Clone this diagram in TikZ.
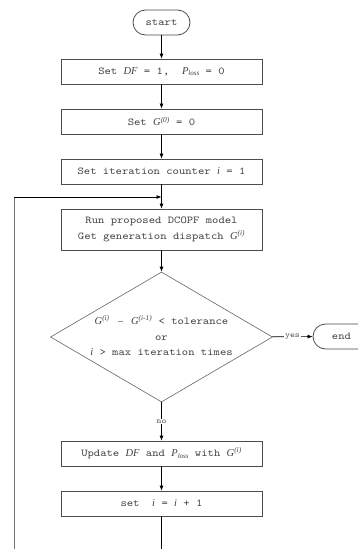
\documentclass[tikz,border=0pt]{standalone}
\usepackage{fontspec}
\setmonofont{Latin Modern Mono}[FakeStretch=1.15]
\newfontfamily\serifit{Liberation Serif}
\usetikzlibrary{shapes.geometric,arrows.meta}
\newcommand\mi[1]{{\serifit\itshape #1}}
\newcommand\su[1]{\textsuperscript{\serifit\itshape #1}}
\newcommand\lo[1]{\raisebox{-0.35ex}{\fontsize{7}{8}\selectfont\serifit\itshape #1}}
\begin{document}
\begin{tikzpicture}[x=1pt,y=-1pt,
  txt/.style={font=\ttfamily\fontsize{10.5}{16.5}\selectfont, text=black!75, align=center, inner sep=0pt},
  box/.style={txt, draw=black!70, line width=0.8pt, minimum width=201pt, minimum height=25pt},
  term/.style={txt, draw=black!70, line width=0.8pt, minimum width=57pt, minimum height=25pt, rounded corners=12.5pt},
  decision/.style={draw=black!60, line width=0.6pt, shape=diamond, inner sep=0pt, minimum width=222pt, minimum height=130pt},
  arr/.style={draw=black, line width=0.7pt, -{Latex[length=5pt,width=4pt]}},
  line/.style={draw=black, line width=0.7pt},
  lbl/.style={font=\ttfamily\fontsize{8}{9}\selectfont, text=black!65, fill=white, inner sep=1pt}]
\useasboundingbox (0,0) rectangle (358,549);
\clip (0,0) rectangle (358,549);
\fill[white] (0,0) rectangle (358,549);
\node[term] (start) at (161.5,22.5) {start};
\node[box] (b1) at (161.5,71.5) {Set \mi{DF} = 1,~ \mi{P}\lo{loss} = 0};
\node[box] (b2) at (161.5,121.5) {Set \mi{G}\su{(0)} = 0};
\node[box] (b3) at (161.5,171.5) {Set iteration counter \mi{i} = 1};
\node[box, minimum height=41pt] (b4) at (161.5,229.5) {Run proposed DCOPF model\\Get generation dispatch \mi{G}\su{(i)}};
\node[decision] (dec) at (161.5,337) {};
\node[txt, font=\ttfamily\fontsize{10.5}{15.5}\selectfont] (dect) at (161.5,335.5) {\mi{G}\su{(i)} {\serifit\,–\,} \mi{G}\su{(i-1)} < tolerance\\or\\\mi{i} > max iteration times};
\node[term] (end) at (341.5,336.5) {end};
\node[box] (b5) at (161.5,453.5) {Update \mi{DF} and \mi{P}\lo{loss} with \mi{G}\su{(i)}};
\node[box] (b6) at (161.5,503.5) {set ~\mi{i} = \mi{i} + 1};
\coordinate (c1) at (161.5,560);
\coordinate (c2) at (14,560);
\coordinate (c3) at (14,197);
\coordinate (c4) at (161.5,197);
\draw[arr] (start) -- (b1);
\draw[arr] (b1) -- (b2);
\draw[arr] (b2) -- (b3);
\draw[arr] (b3) -- (b4);
\draw[arr] (b4) -- (dec);
\draw[arr] (dec) -- node[lbl]{yes} (end);
\draw[arr] (dec) -- node[lbl]{no} (b5);
\draw[arr] (b5) -- (b6);
\draw[line] (b6) -- (c1) -- (c2);
\draw[line, draw=black!55] (c2) -- (c3);
\draw[arr] (c3) -- (c4);
\end{tikzpicture}
\end{document}
